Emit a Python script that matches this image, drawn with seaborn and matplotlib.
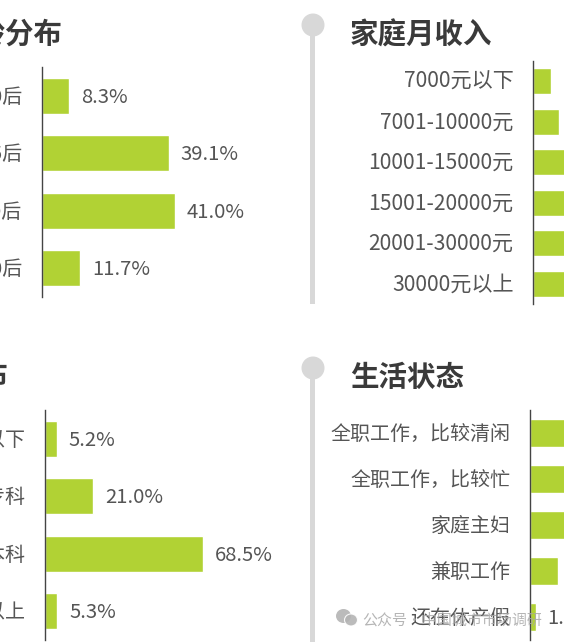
import matplotlib
matplotlib.use("Agg")
import matplotlib.pyplot as plt
from matplotlib.patches import Circle, Ellipse, Rectangle
from matplotlib.transforms import ScaledTranslation
import pandas as pd
import seaborn as sns

# values, bars running off the right edge are estimates
age_labels = ["70后", "85后", "90后", "00后"]
age_values = [8.3, 39.1, 41.0, 11.7]

income_labels = ["7000元以下", "7001-10000元", "10001-15000元", "15001-20000元", "20001-30000元", "30000元以上"]
income_values = [5.7, 7.9, 24.0, 25.0, 22.0, 15.4]

edu_labels = ["高中及以下", "大学专科", "大学本科", "硕士及以上"]
edu_values = [5.2, 21.0, 68.5, 5.3]

life_labels = ["全职工作，比较清闲", "全职工作，比较忙", "家庭主妇", "兼职工作", "还在休产假"]
life_values = [30.0, 45.0, 12.0, 9.7, 1.9]

W, H = 564, 642
BAR = "#b1d234"
TEXT = "#555555"
TITLE = "#3a3a3a"
GREY = "#d8d8d8"

sns.set_theme(style="white")
plt.rcParams["font.family"] = ["Noto Sans CJK SC", "DejaVu Sans"]

fig = plt.figure(figsize=(W / 100, H / 100), dpi=100, facecolor="white")


def draw_panel(labels, values, x0, top, bottom, scale, label_gap, label_size=14.4, label_up=1.0):
    # axes placed in pixels, scale is pixels per percent
    width = 100 * scale
    ax = fig.add_axes([x0 / W, 1 - bottom / H, width / W, (bottom - top) / H])
    df = pd.DataFrame({"label": labels, "value": values})
    sns.barplot(data=df, y="label", x="value", color=BAR, saturation=1, width=0.63, ax=ax)
    ax.set_xlim(0, 100)
    ax.set_ylim(len(labels) - 0.5, -0.5)
    ax.set_xlabel("")
    ax.set_ylabel("")
    ax.set_xticks([])
    ax.tick_params(axis="y", length=0, pad=label_gap, labelsize=label_size, labelcolor=TEXT)
    sns.despine(ax=ax, top=True, right=True, bottom=True)
    ax.spines["left"].set_color("#444444")
    ax.spines["left"].set_linewidth(1)
    ax.patch.set_alpha(0)
    # nudge tick labels up a little, the font sits lower than the original
    for lab in ax.get_yticklabels():
        lab.set_transform(lab.get_transform() + ScaledTranslation(0, label_up / 100, fig.dpi_scale_trans))
    texts = ax.bar_label(ax.containers[0], fmt="%.1f%%", padding=8.6, color=TEXT, fontsize=14.6)
    for t in texts:
        t.xyann = (t.xyann[0], -1.2)
    return ax


draw_panel(age_labels, age_values, 42, 67, 297, 3.24, 14.5)
draw_panel(income_labels, income_values, 533, 61, 304, 3.24, 14, label_size=15.2, label_up=2.0)
draw_panel(edu_labels, edu_values, 45, 410, 640, 2.3, 14)
draw_panel(life_labels, life_values, 530, 410, 640, 2.9, 14)

# overlay in pixel coordinates for titles, timeline and watermark
over = fig.add_axes([0, 0, 1, 1])
over.set_xlim(0, W)
over.set_ylim(H, 0)
over.axis("off")
over.patch.set_alpha(0)

for cy, end in [(25, 304), (368, 642)]:
    over.add_patch(Rectangle((309.5, cy), 5, end - cy, color=GREY, lw=0))
    over.add_patch(Circle((313, cy), 11.5, color=GREY, lw=0))

over.text(63, 35, "年龄分布", ha="right", va="center", fontsize=20.5, fontweight="bold", color=TITLE)
over.text(350, 35, "家庭月收入", ha="left", va="center", fontsize=20.5, fontweight="bold", color=TITLE)
over.text(8, 378, "学历分布", ha="right", va="center", fontsize=20.5, fontweight="bold", color=TITLE)
over.text(350, 378, "生活状态", ha="left", va="center", fontsize=20.5, fontweight="bold", color=TITLE)

# wechat mark and account name over the corner
over.add_patch(Ellipse((343.5, 616), 15, 14, color="#b4b4b4", lw=0, alpha=0.9))
over.add_patch(Ellipse((351, 620), 13, 12, color="#b4b4b4", ec="white", lw=0.8, alpha=0.9))
over.text(362, 620, "公众号·中国城市市场调研", ha="left", va="center", fontsize=10.8, color="#a8a8a8", alpha=0.85)

fig.savefig("out.png", dpi=100)
